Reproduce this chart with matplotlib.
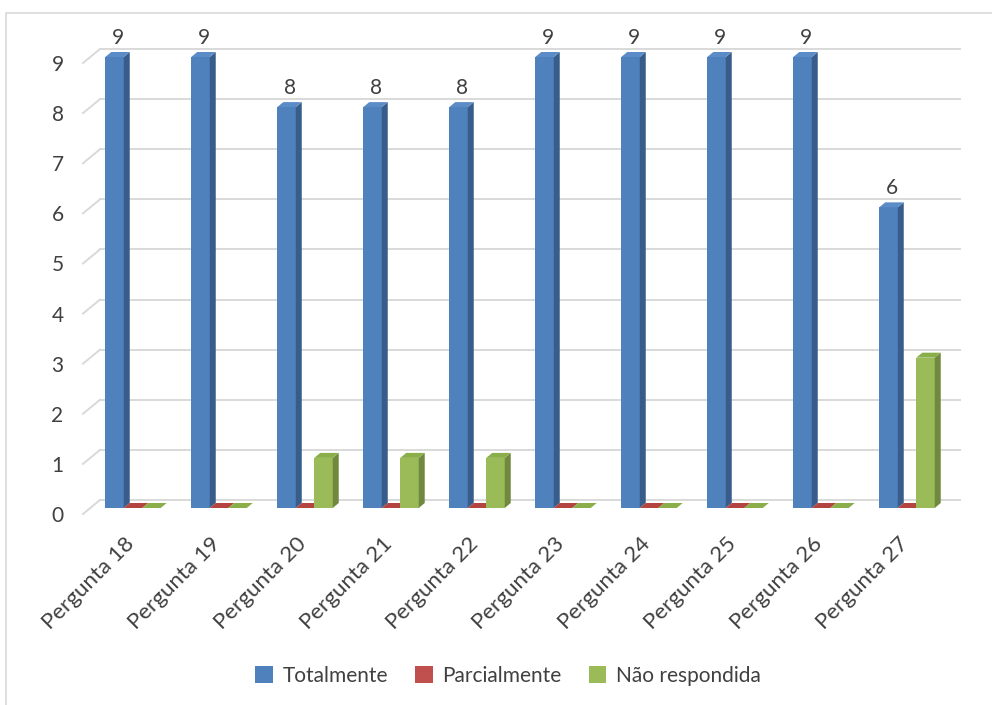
import numpy as np
import matplotlib.pyplot as plt
import matplotlib.transforms as mtransforms
from matplotlib.patches import Polygon, Patch
from matplotlib.lines import Line2D

plt.rcParams['font.family'] = ['Lato', 'DejaVu Sans']

categories = ['Pergunta 18', 'Pergunta 19', 'Pergunta 20', 'Pergunta 21', 'Pergunta 22',
              'Pergunta 23', 'Pergunta 24', 'Pergunta 25', 'Pergunta 26', 'Pergunta 27']
totalmente = [9, 9, 8, 8, 8, 9, 9, 9, 9, 6]
parcialmente = [0, 0, 0, 0, 0, 0, 0, 0, 0, 0]
nao_respondida = [0, 0, 1, 1, 1, 0, 0, 0, 0, 3]
series_names = ['Totalmente', 'Parcialmente', 'Não respondida']
yticks = list(range(10))

front_col = ['#4F81BD', '#C0504D', '#9BBB59']
side_col = ['#385D8A', '#8C3836', '#71893F']
top_col = ['#5B8CC8', '#B4443F', '#8AAE4A']
grid_col = '#D9D9D9'
text_col = '#404040'

W, H = 992, 705
fig = plt.figure(figsize=(W / 100, H / 100), dpi=100)
ax = fig.add_axes([83 / W, (H - 514) / H, 860 / W, 451 / H])
ax.set_xlim(-0.5, len(categories) - 0.5)
ax.set_ylim(0, 9)
ax.patch.set_visible(False)
for s in ax.spines.values():
    s.set_visible(False)


def shifted(dx, dy):
    # pixel offset on top of data coordinates
    return ax.transData + mtransforms.ScaledTranslation(dx / 100, dy / 100, fig.dpi_scale_trans)


# back wall gridlines + little diagonal stubs on the left
back = shifted(17, 14)
for v in yticks:
    ax.plot([-0.5, len(categories) - 0.5], [v, v], color=grid_col, lw=1.4,
            transform=back, clip_on=False, zorder=1)
    p0 = ax.transData.transform((-0.5, v))
    ax.add_line(Line2D([p0[0], p0[0] + 17], [p0[1], p0[1] + 14], color=grid_col, lw=1.4,
                       transform=mtransforms.IdentityTransform(), clip_on=False, zorder=1))

ax.set_yticks(yticks)
ax.set_yticklabels([str(v) for v in yticks], fontsize=15, color=text_col)
ax.tick_params(axis='y', length=0, pad=14)
ax.set_xticks([])

# bars: front face from ax.bar, side and top faces as polygons
w = 0.215
bdx, bdy = 7, 6     # bar position inside the depth
ddx, ddy = 6, 5     # bar depth
bar_tr = shifted(bdx, bdy)
ident = mtransforms.IdentityTransform()
data = [totalmente, parcialmente, nao_respondida]
x = np.arange(len(categories))
for s, vals in enumerate(data):
    xs = x - 1.5 * w + s * w
    bars = ax.bar(xs, vals, w, align='edge', color=front_col[s], linewidth=0, zorder=3)
    for b, xi, v in zip(bars, xs, vals):
        b.set_transform(bar_tr)
        b.set_clip_on(False)
        x0, y0 = ax.transData.transform((xi, 0)) + (bdx, bdy)
        x1, y1 = ax.transData.transform((xi + w, v)) + (bdx, bdy)
        sidep = Polygon([(x1, y0), (x1 + ddx, y0 + ddy), (x1 + ddx, y1 + ddy), (x1, y1)],
                        closed=True, facecolor=side_col[s], edgecolor='none',
                        transform=ident, clip_on=False, zorder=3)
        topp = Polygon([(x0, y1), (x1, y1), (x1 + ddx, y1 + ddy), (x0 + ddx, y1 + ddy)],
                       closed=True, facecolor=top_col[s], edgecolor='none',
                       transform=ident, clip_on=False, zorder=3)
        ax.add_patch(sidep)
        ax.add_patch(topp)

# value labels on the Totalmente series
for xi, v in zip(x - 1.5 * w, totalmente):
    ax.text(xi + w / 2, v, str(v), transform=shifted(10, 25), ha='center', va='center',
            fontsize=15, color=text_col, clip_on=False)

# category labels
for xi, lab in zip(x, categories):
    ax.text(xi, 0, lab, transform=shifted(-2, -20), rotation=45, rotation_mode='anchor',
            ha='right', va='top', fontsize=16, color=text_col, clip_on=False)

handles = [Patch(facecolor=c, edgecolor='none') for c in front_col]
fig.legend(handles, series_names, loc='center', bbox_to_anchor=(508 / W, 1 - 676 / H),
           ncol=3, frameon=False, fontsize=15, labelcolor=text_col,
           handlelength=0.85, handleheight=0.85, handletextpad=0.45, columnspacing=1.3)

# chart area border
fig.add_artist(Line2D([6 / W, 6 / W, 1], [0, 1 - 13 / H, 1 - 13 / H], color=grid_col, lw=1.2,
                      transform=fig.transFigure))

fig.savefig('out.png', dpi=100, facecolor='white')
